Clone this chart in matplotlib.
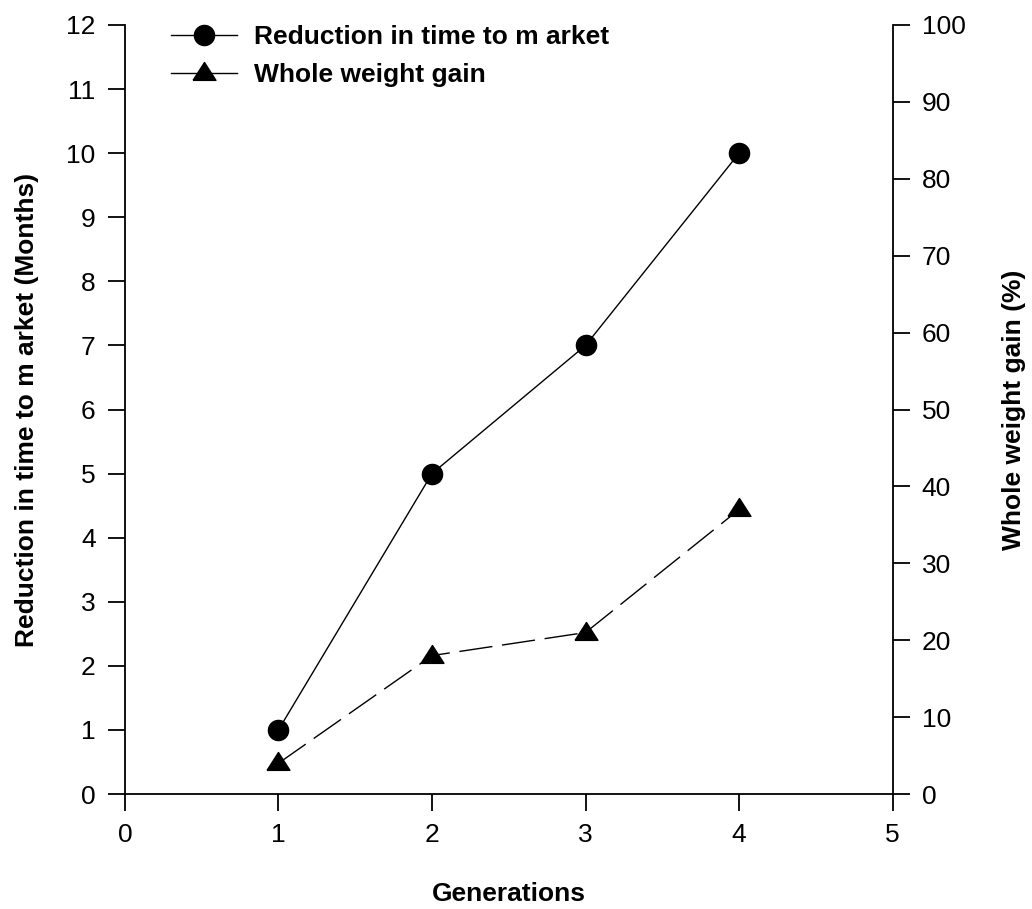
import matplotlib
matplotlib.use("Agg")
import matplotlib.pyplot as plt
from matplotlib.lines import Line2D
from matplotlib import font_manager

names = {f.name for f in font_manager.fontManager.ttflist}
narrow = 'Liberation Sans Narrow' if 'Liberation Sans Narrow' in names else 'Liberation Sans'
plt.rcParams['font.family'] = ['Liberation Sans', 'DejaVu Sans']

generations = [1, 2, 3, 4]
reduction_months = [1, 5, 7, 10]
weight_gain_pct = [4, 18, 21, 37]

x_ticks = [0, 1, 2, 3, 4, 5]
left_ticks = list(range(0, 13))
right_ticks = list(range(0, 101, 10))

tri = [(-1, -0.6), (1, -0.6), (0, 0.96), (-1, -0.6)]

fig = plt.figure(figsize=(10.32, 9.09), dpi=100)
ax = fig.add_axes([0.121, 0.1265, 0.744, 0.846])
ax2 = ax.twinx()

ax.plot(generations, reduction_months, color='black', lw=1.0, marker='o',
        markersize=14.5, markerfacecolor='black', zorder=3)
ax2.plot(generations, weight_gain_pct, color='black', lw=1.0, dashes=(24, 7),
         marker=tri, markersize=16.5, markerfacecolor='black', zorder=3)

ax.set_xlim(0, 5)
ax.set_ylim(0, 12)
ax2.set_ylim(0, 100)
ax.set_xticks(x_ticks)
ax.set_yticks(left_ticks)
ax2.set_yticks(right_ticks)

for a in (ax, ax2):
    a.spines['top'].set_visible(False)
    for s in a.spines.values():
        s.set_linewidth(1.3)
    a.tick_params(length=12, width=1.3, labelsize=19, direction='out', pad=9)
    for lab in a.get_xticklabels() + a.get_yticklabels():
        lab.set_family([narrow, 'Liberation Sans', 'DejaVu Sans'])
ax.spines['right'].set_visible(False)
ax2.spines['left'].set_visible(False)
ax2.spines['bottom'].set_visible(False)

ax.set_xlabel('Generations', fontsize=19, fontweight='bold', labelpad=25)
ax.set_ylabel('Reduction in time to m arket (Months)', fontsize=19, fontweight='bold', labelpad=20)
ax2.set_ylabel('Whole weight gain (%)', fontsize=19, fontweight='bold', labelpad=26)

handles = [Line2D([], [], color='black', lw=1.0, marker='o', markersize=14.5),
           Line2D([], [], color='black', lw=1.0, marker=tri, markersize=16.5)]
ax.legend(handles, ['Reduction in time to m arket', 'Whole weight gain'],
          loc='upper left', bbox_to_anchor=(0.06, 1.0), frameon=False,
          borderpad=0, borderaxespad=0,
          prop={'size': 19, 'weight': 'bold'}, handlelength=2.5,
          handletextpad=0.65, labelspacing=0.54)

fig.savefig('out.png', dpi=100)
